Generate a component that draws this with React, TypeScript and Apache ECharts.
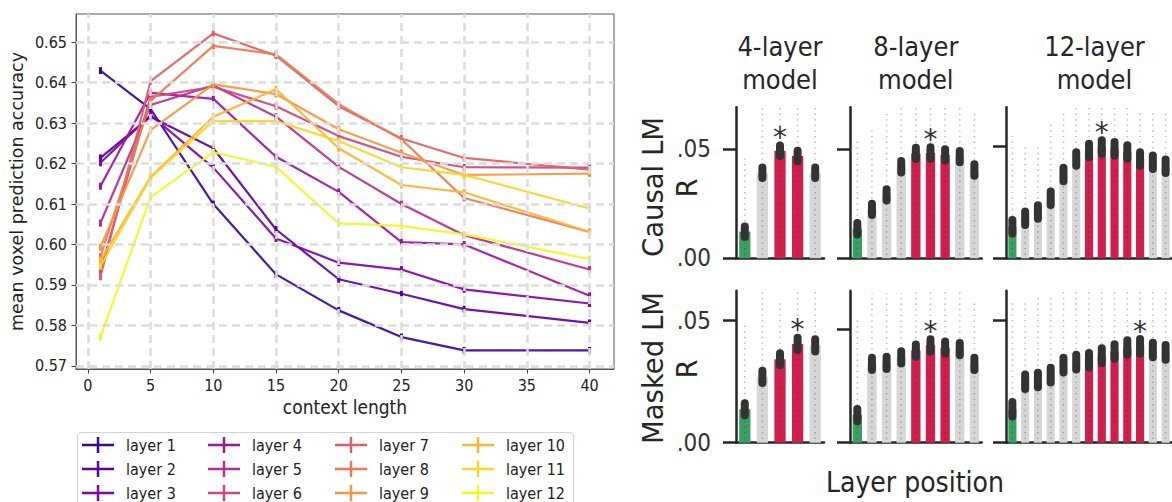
import React, { useEffect, useRef } from "react";
import * as echarts from "echarts";

// ---------- Left chart data ----------
const CONTEXT_LENGTHS = [1, 5, 10, 15, 20, 25, 30, 40];
const LAYER_NAMES = [
  "layer 1", "layer 2", "layer 3", "layer 4", "layer 5", "layer 6",
  "layer 7", "layer 8", "layer 9", "layer 10", "layer 11", "layer 12",
];
const LAYER_1 = [0.643, 0.6335, 0.61, 0.5926, 0.5837, 0.5771, 0.5738, 0.5738];
const LAYER_2 = [0.6214, 0.6316, 0.6238, 0.6037, 0.5914, 0.5878, 0.584, 0.5806];
const LAYER_3 = [0.6202, 0.632, 0.619, 0.6015, 0.5955, 0.5938, 0.5889, 0.5854];
const LAYER_4 = [0.6144, 0.6375, 0.636, 0.6217, 0.613, 0.6006, 0.6, 0.5873];
const LAYER_5 = [0.6053, 0.6345, 0.6393, 0.6316, 0.6192, 0.61, 0.6023, 0.5938];
const LAYER_6 = [0.5936, 0.6365, 0.639, 0.6342, 0.6268, 0.6217, 0.6191, 0.619];
const LAYER_7 = [0.592, 0.6404, 0.6522, 0.6467, 0.6342, 0.6262, 0.6214, 0.6185];
const LAYER_8 = [0.597, 0.6355, 0.6491, 0.647, 0.6347, 0.626, 0.6115, 0.6031];
const LAYER_9 = [0.5993, 0.6283, 0.6396, 0.6372, 0.6285, 0.6227, 0.6172, 0.6175];
const LAYER_10 = [0.5961, 0.6167, 0.6316, 0.6384, 0.6238, 0.6147, 0.6129, 0.6031];
const LAYER_11 = [0.5946, 0.6165, 0.6305, 0.6305, 0.6256, 0.6191, 0.6172, 0.6089];
const LAYER_12 = [0.5771, 0.6117, 0.6228, 0.6192, 0.6052, 0.6046, 0.6025, 0.5964];
const LAYER_VALUES = [
  LAYER_1, LAYER_2, LAYER_3, LAYER_4, LAYER_5, LAYER_6,
  LAYER_7, LAYER_8, LAYER_9, LAYER_10, LAYER_11, LAYER_12,
];
const LAYER_COLORS = [
  "#380599", "#5c01a4", "#7d06a6", "#9a179d", "#b52f8c", "#cc4778",
  "#dd5f66", "#ec7953", "#f79540", "#fcb330", "#fad524", "#f0f921",
];
const X_TICKS = [0, 5, 10, 15, 20, 25, 30, 35, 40];
const Y_TICKS = [0.57, 0.58, 0.59, 0.6, 0.61, 0.62, 0.63, 0.64, 0.65];

// ---------- Right chart data ----------
const MODEL_TITLES = ["4-layer\nmodel", "8-layer\nmodel", "12-layer\nmodel"];
const ROW_TITLES = ["Causal LM", "Masked LM"];
const CAUSAL_4 = [0.0122, 0.0392, 0.0492, 0.0468, 0.0392];
const CAUSAL_8 = [0.0135, 0.0224, 0.029, 0.0419, 0.048, 0.0482, 0.0473, 0.0465, 0.0404];
const CAUSAL_12 = [0.014, 0.0178, 0.0206, 0.0267, 0.0373, 0.0442, 0.048, 0.0495, 0.0488, 0.0473, 0.0442, 0.0427, 0.041];
const MASKED_4 = [0.0137, 0.027, 0.0342, 0.0405, 0.0399];
const MASKED_8 = [0.0122, 0.0347, 0.0352, 0.0376, 0.0406, 0.0429, 0.0419, 0.0412, 0.0347];
const MASKED_12 = [0.0137, 0.025, 0.0257, 0.0277, 0.0318, 0.033, 0.0338, 0.0357, 0.0374, 0.039, 0.0395, 0.038, 0.037];
// upper end of each bar's cloud of per-voxel points
const SPREAD_CAUSAL_4 = [0.046, 0.069, 0.069, 0.069, 0.069];
const SPREAD_CAUSAL_8 = [0.054, 0.06, 0.066, 0.069, 0.069, 0.069, 0.069, 0.069, 0.068];
const SPREAD_CAUSAL_12 = [0.055, 0.05, 0.051, 0.06, 0.066, 0.067, 0.067, 0.067, 0.067, 0.067, 0.066, 0.066, 0.066];
const SPREAD_MASKED_4 = [0.048, 0.062, 0.058, 0.062, 0.062];
const SPREAD_MASKED_8 = [0.054, 0.066, 0.066, 0.066, 0.067, 0.067, 0.067, 0.067, 0.063];
const SPREAD_MASKED_12 = [0.058, 0.059, 0.06, 0.061, 0.062, 0.062, 0.062, 0.062, 0.062, 0.062, 0.062, 0.062, 0.062];
const ROLES_4 = ["input", "other", "best", "best", "other"];
const ROLES_8 = ["input", "other", "other", "other", "best", "best", "best", "other", "other"];
const ROLES_12 = ["input", "other", "other", "other", "other", "other", "best", "best", "best", "best", "best", "other", "other"];
const STAR_CAUSAL = [2, 5, 7];
const STAR_MASKED = [3, 5, 10];
const CI_CAUSAL = [0.0024, 0.0026, 0.003];
const CI_MASKED = [0.0025, 0.0027, 0.003];
const YMAX_CAUSAL = [0.0691, 0.0691, 0.0672];
const YMAX_MASKED = [0.0623, 0.067, 0.0623];

const ROLE_COLORS: Record<string, string> = {
  input: "#3a9f62",
  other: "#d6d6d6",
  best: "#cf1f4c",
};

const COND = "'DejaVu Sans Condensed', 'DejaVu Sans', sans-serif";
const REG = "'DejaVu Sans', sans-serif";
const INK = "#262626";

function buildOption() {
  const grid: any[] = [];
  const xAxis: any[] = [];
  const yAxis: any[] = [];
  const series: any[] = [];

  // ---- line chart ----
  grid.push({
    left: 76, top: 14, width: 538, height: 355,
    show: true, borderColor: "#555", borderWidth: 1, backgroundColor: "transparent",
  });
  xAxis.push({
    gridIndex: 0, type: "value", min: -0.95, max: 41.95,
    axisLine: { show: true, onZero: false, lineStyle: { color: "#555", width: 1 } },
    axisTick: { show: true, length: 4.5, customValues: X_TICKS, lineStyle: { color: "#444" } },
    axisLabel: { customValues: X_TICKS, fontSize: 16, fontFamily: COND, color: "#222", margin: 8 },
    splitLine: { show: false },
    name: "context length", nameLocation: "middle", nameGap: 28,
    nameTextStyle: { fontSize: 19, fontFamily: COND, color: "#222" },
  });
  yAxis.push({
    gridIndex: 0, type: "value", min: 0.5692, max: 0.657,
    axisLine: { show: true, onZero: false, lineStyle: { color: "#555", width: 1 } },
    axisTick: { show: true, length: 4.5, customValues: Y_TICKS, lineStyle: { color: "#444" } },
    axisLabel: {
      customValues: Y_TICKS, fontSize: 16, fontFamily: COND, color: "#222", margin: 9,
      formatter: (v: number) => v.toFixed(2),
    },
    splitLine: { show: false },
    name: "mean voxel prediction accuracy", nameLocation: "middle", nameGap: 50, nameRotate: 90,
    nameTextStyle: { fontSize: 17.5, fontFamily: REG, color: "#222" },
  });
  series.push({
    type: "line", xAxisIndex: 0, yAxisIndex: 0, data: [], silent: true, z: 1,
    markLine: {
      silent: true, symbol: "none", label: { show: false }, animation: false,
      lineStyle: { color: "#dcdcdc", width: 2.6, type: [8, 5] },
      emphasis: { disabled: true },
      data: [
        ...X_TICKS.map((v) => ({ xAxis: v })),
        ...Y_TICKS.map((v) => ({ yAxis: v })),
      ],
    },
  });
  LAYER_VALUES.forEach((vals, i) => {
    const color = LAYER_COLORS[i];
    series.push({
      type: "line", name: LAYER_NAMES[i], xAxisIndex: 0, yAxisIndex: 0, z: 3,
      data: CONTEXT_LENGTHS.map((x, j) => [x, vals[j]]),
      symbol: "rect", symbolSize: [3, 7], showSymbol: true,
      lineStyle: { width: 2.2, color, opacity: 0.92 },
      itemStyle: { color },
      emphasis: { disabled: true },
    });
  });

  // ---- bar panels ----
  const PANEL_LEFT = [736, 850, 1006];
  const PANEL_W = [88, 131.7, 177];
  const ROW_TOP = [107.3, 290.7];
  const ROW_H = [151, 152];
  const rows = [
    {
      vals: [CAUSAL_4, CAUSAL_8, CAUSAL_12],
      spread: [SPREAD_CAUSAL_4, SPREAD_CAUSAL_8, SPREAD_CAUSAL_12],
      stars: STAR_CAUSAL, ci: CI_CAUSAL, ymax: YMAX_CAUSAL,
    },
    {
      vals: [MASKED_4, MASKED_8, MASKED_12],
      spread: [SPREAD_MASKED_4, SPREAD_MASKED_8, SPREAD_MASKED_12],
      stars: STAR_MASKED, ci: CI_MASKED, ymax: YMAX_MASKED,
    },
  ];
  const roleSets = [ROLES_4, ROLES_8, ROLES_12];
  rows.forEach((row, r) => {
    row.vals.forEach((vals, c) => {
      const gi = grid.length;
      const ci = row.ci[c];
      const star = row.stars[c];
      const roles = roleSets[c];
      const spread = row.spread[c];
      grid.push({ left: PANEL_LEFT[c], top: ROW_TOP[r], width: PANEL_W[c], height: ROW_H[r] });
      xAxis.push({
        gridIndex: gi, type: "category", data: vals.map((_, k) => String(k)),
        axisLine: { show: true, lineStyle: { color: INK, width: 2.5 } },
        axisTick: { show: false }, axisLabel: { show: false }, splitLine: { show: false },
      });
      yAxis.push({
        gridIndex: gi, type: "value", min: 0, max: row.ymax[c],
        axisLine: { show: true, lineStyle: { color: INK, width: 2.5 } },
        axisTick: { show: true, length: 13, customValues: [0, 0.05], lineStyle: { color: INK, width: 2.5 } },
        axisLabel: {
          show: c === 0, customValues: [0, 0.05], fontSize: 24, fontFamily: COND, color: "#333", margin: 25,
          formatter: (v: number) => (Math.abs(v) < 1e-9 ? ".00" : ".05"),
        },
        splitLine: { show: false },
      });
      series.push({
        type: "bar", xAxisIndex: gi, yAxisIndex: gi, barWidth: "64%", silent: true, z: 2,
        data: vals.map((v, k) => ({ value: v, itemStyle: { color: ROLE_COLORS[roles[k]] } })),
      });
      // column of individual points (texture)
      series.push({
        type: "custom", xAxisIndex: gi, yAxisIndex: gi, silent: true, z: 3,
        data: spread.map((v, k) => [k, v]),
        renderItem: (params: any, api: any) => {
          const i = api.value(0);
          const t = api.value(1);
          const p0 = api.coord([i, 0.0015]);
          const p1 = api.coord([i, t]);
          return {
            type: "line",
            shape: { x1: p0[0], y1: p0[1], x2: p1[0], y2: p1[1] },
            style: { stroke: "rgba(50,50,50,0.32)", lineWidth: 1.6, lineDash: [1.4, 4.2] },
          };
        },
      });
      series.push({
        type: "custom", xAxisIndex: gi, yAxisIndex: gi, silent: true, z: 4,
        data: vals.map((v, k) => [k, v, k === star ? 1 : 0]),
        renderItem: (params: any, api: any) => {
          const i = api.value(0);
          const m = api.value(1);
          const top = api.coord([i, m + ci]);
          const bot = api.coord([i, m - ci]);
          const children: any[] = [
            {
              type: "line",
              shape: { x1: top[0], y1: top[1], x2: bot[0], y2: bot[1] },
              style: { stroke: "#333", lineWidth: 8, lineCap: "round" },
            },
          ];
          if (api.value(2) === 1) {
            children.push({
              type: "text", x: top[0], y: top[1] - 8,
              style: { text: "*", fontSize: 28, fontFamily: REG, fill: "#333", align: "center", verticalAlign: "middle" },
            });
          }
          return { type: "group", children };
        },
      });
    });
  });

  // ---- legends ----
  const LEG_X = [82, 208, 335, 462];
  const legend = LEG_X.map((x, c) => ({
    left: x, top: 437, height: 70, padding: 0,
    orient: "vertical", itemGap: 8, itemWidth: 32, itemHeight: 16,
    icon: "path://M0,6.75h32v2.5h-32z M14.75,0h2.5v16h-2.5z",
    selectedMode: false,
    data: LAYER_NAMES.slice(c * 3, c * 3 + 3),
    textStyle: { fontSize: 16, fontFamily: COND, color: "#222", padding: [0, 0, 0, 7] },
  }));

  const PANEL_CENTERS = [780, 915.8, 1094.5];
  const graphic: any[] = [
    {
      type: "rect", z: -1,
      shape: { x: 77.5, y: 432.5, width: 496, height: 90, r: 4 },
      style: { fill: "#fff", stroke: "#d4d4d4", lineWidth: 1.2 },
    },
  ];
  MODEL_TITLES.forEach((t, c) => {
    const lines = t.split("\n");
    lines.forEach((ln, k) => {
      graphic.push({
        type: "text", x: PANEL_CENTERS[c], y: 46 + k * 33,
        style: { text: ln, fontSize: 27, fontFamily: COND, fill: INK, align: "center", verticalAlign: "middle" },
      });
    });
  });
  const ROW_CENTERS = [187, 368];
  ROW_TITLES.forEach((t, r) => {
    graphic.push({
      type: "text", x: 653, y: ROW_CENTERS[r], rotation: Math.PI / 2,
      style: { text: t, fontSize: 27.5, fontFamily: REG, fill: INK, align: "center", verticalAlign: "middle" },
    });
    graphic.push({
      type: "text", x: 687, y: ROW_CENTERS[r] + 1, rotation: Math.PI / 2,
      style: { text: "R", fontSize: 27.5, fontFamily: REG, fill: INK, align: "center", verticalAlign: "middle" },
    });
  });
  graphic.push({
    type: "text", x: 915, y: 482,
    style: { text: "Layer position", fontSize: 28, fontFamily: COND, fill: INK, align: "center", verticalAlign: "middle" },
  });

  return {
    animation: false,
    backgroundColor: "#ffffff",
    grid, xAxis, yAxis, series, legend, graphic,
  };
}

export default function App() {
  const ref = useRef<HTMLDivElement>(null);
  useEffect(() => {
    document.body.style.margin = "0";
    if (!ref.current) return;
    const chart = echarts.init(ref.current, undefined, { renderer: "svg" });
    chart.setOption(buildOption() as any);
    return () => chart.dispose();
  }, []);
  return (
    <div
      ref={ref}
      style={{ position: "absolute", left: 0, top: 0, width: 1172, height: 502, overflow: "hidden" }}
    />
  );
}
